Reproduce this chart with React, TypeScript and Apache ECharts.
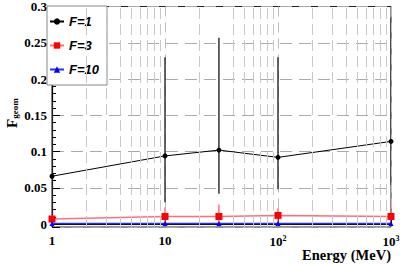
import React, { useEffect, useRef } from "react";
import * as echarts from "echarts";

const energies = [1, 10, 30, 100, 1000];
const f1 = [0.066, 0.094, 0.102, 0.092, 0.114];
const f1Lo = [-0.03, 0.03, 0.042, 0.048, 0.054];
const f1Hi = [0.168, 0.23, 0.257, 0.23, 0.285];
const f3 = [0.007, 0.0105, 0.0105, 0.012, 0.0105];
const f3Lo = [0.002, 0.0, 0.0, 0.002, -0.005];
const f3Hi = [0.012, 0.023, 0.027, 0.022, 0.031];
const f10 = [0.0008, 0.0008, 0.0008, 0.0008, 0.0008];
const f10Lo = [-0.001, -0.001, -0.001, -0.001, -0.001];
const f10Hi = [0.0025, 0.0025, 0.0025, 0.0025, 0.0025];
const minorX = [2, 3, 4, 5, 6, 7, 8, 9, 20, 40, 50, 60, 70, 80, 90, 200, 300, 400, 500, 600, 700, 800, 900];
const names = ["F=1", "F=3", "F=10"];

const serif = "'Liberation Serif', 'DejaVu Serif', serif";
const sans = "'Liberation Sans', Arial, sans-serif";

function errSeries(vals: number[], lo: number[], hi: number[], color: string, width: number) {
  return {
    type: "custom",
    clip: true,
    z: 1,
    silent: true,
    data: energies.map((e, i) => [e, lo[i], hi[i]]),
    encode: { x: 0, y: [1, 2] },
    renderItem: (params: any, api: any) => {
      const x = api.value(0);
      const p1 = api.coord([x, api.value(1)]);
      const p2 = api.coord([x, api.value(2)]);
      return {
        type: "line",
        shape: { x1: p1[0], y1: p1[1], x2: p2[0], y2: p2[1] },
        style: { stroke: color, lineWidth: width },
      };
    },
  };
}

export default function App() {
  const ref = useRef<HTMLDivElement>(null);
  useEffect(() => {
    if (!ref.current) return;
    const chart = echarts.init(ref.current, null, { renderer: "svg" });
    const sup: Record<number, string> = { 1: "1", 10: "10", 100: "10{s|2}", 1000: "10{s|3}" };
    chart.setOption({
      animation: false,
      grid: { left: 52, right: 18, top: 6, bottom: 37, show: true, borderColor: "#222", borderWidth: 1 },
      legend: {
        data: names,
        orient: "vertical",
        left: 47,
        top: 6,
        width: 64,
        padding: [9, 8, 9, 2],
        itemGap: 11,
        itemWidth: 14,
        itemHeight: 8,
        borderColor: "#888",
        borderWidth: 1,
        backgroundColor: "#fff",
        textStyle: { fontFamily: sans, fontWeight: "bold", fontStyle: "italic", fontSize: 13, color: "#000" },
      },
      xAxis: {
        type: "log",
        min: 1,
        max: 1000,
        logBase: 10,
        axisLine: { lineStyle: { color: "#000", width: 1 } },
        axisTick: { inside: true, length: 8, lineStyle: { color: "#000" } },
        splitLine: { show: true, lineStyle: { color: "#bbb", type: [10, 6] } },
        axisLabel: {
          fontFamily: serif,
          fontWeight: "bold",
          fontSize: 13,
          color: "#000",
          margin: 7,
          formatter: (v: number) => sup[Math.round(v)] ?? "",
          rich: { s: { fontFamily: serif, fontWeight: "bold", fontSize: 8, verticalAlign: "top", padding: [0, 0, 6, 0] } },
        },
      },
      yAxis: {
        type: "value",
        min: -0.004,
        max: 0.3,
        splitNumber: 6,
        axisLine: { show: true, lineStyle: { color: "#000", width: 1.2 } },
        axisTick: { inside: true, length: 8, lineStyle: { color: "#000" } },
        minorTick: { show: true, splitNumber: 5, length: 4, lineStyle: { color: "#000" } },
        splitLine: { show: true, lineStyle: { color: "#aaa", type: [12, 7] } },
        axisLabel: {
          showMinLabel: false,
          fontFamily: serif,
          fontWeight: "bold",
          fontSize: 13,
          color: "#000",
          margin: 5,
          formatter: (v: number) => String(Math.round(v * 1000) / 1000),
        },
      },
      graphic: [
        {
          type: "text",
          right: 18,
          top: 247,
          style: { text: "Energy (MeV)", font: `bold 14.5px ${serif}`, fill: "#000" },
        },
        {
          type: "text",
          x: 4,
          y: 128,
          rotation: Math.PI / 2,
          style: {
            text: "{f|F}{g|geom}",
            rich: {
              f: { font: `bold 15px ${serif}`, fill: "#000" },
              g: { font: `bold 9px ${serif}`, fill: "#000", verticalAlign: "bottom", padding: [6, 0, 0, 0] },
            },
          },
        },
      ],
      series: [
        {
          type: "line",
          name: "__grid",
          data: [],
          silent: true,
          markLine: {
            symbol: "none",
            silent: true,
            label: { show: false },
            lineStyle: { color: "#c8c8c8", type: [11, 5], width: 1 },
            data: minorX.map((v) => ({ xAxis: v })),
          },
        },
        errSeries(f1, f1Lo, f1Hi, "#333", 1.5),
        errSeries(f3, f3Lo, f3Hi, "#ff5050", 1.2),
        errSeries(f10, f10Lo, f10Hi, "#3040ff", 1),
        {
          type: "line",
          name: names[0],
          data: energies.map((e, i) => [e, f1[i]]),
          symbol: "circle",
          symbolSize: 5,
          z: 3,
          itemStyle: { color: "#000" },
          lineStyle: { color: "#000", width: 1 },
        },
        {
          type: "line",
          name: names[1],
          data: energies.map((e, i) => [e, f3[i]]),
          symbol: "rect",
          symbolSize: 7,
          z: 3,
          itemStyle: { color: "#ff0000" },
          lineStyle: { color: "#ff7070", width: 1.5 },
        },
        {
          type: "line",
          name: names[2],
          data: energies.map((e, i) => [e, f10[i]]),
          symbol: "triangle",
          symbolSize: 5,
          z: 3,
          itemStyle: { color: "#0000ff" },
          lineStyle: { color: "#2030ff", width: 1.5 },
        },
      ],
    });
    return () => chart.dispose();
  }, []);
  return <div ref={ref} style={{ width: 409, height: 264, position: "absolute", left: 0, top: 0 }} />;
}
